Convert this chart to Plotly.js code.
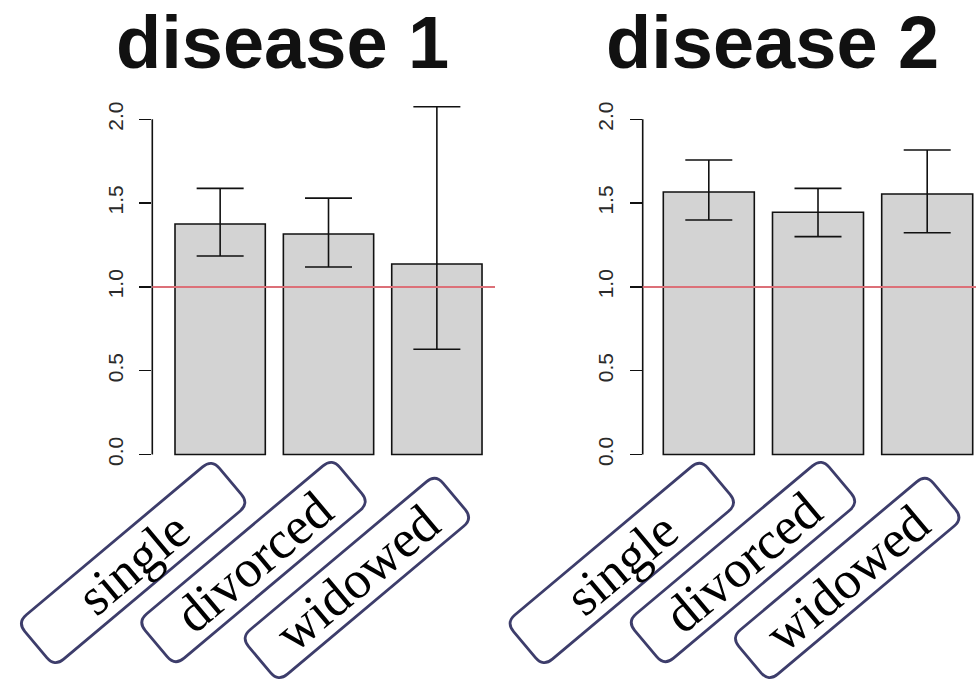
<!DOCTYPE html>
<html><head><meta charset="utf-8">
<script src="https://cdn.plot.ly/plotly-3.0.1.min.js"></script>
<style>html,body{margin:0;padding:0;background:#fff}#chart{width:976px;height:681px}</style>
</head><body><div id="chart"></div>
<script>
// ---- data ----
const categories = ['single', 'divorced', 'widowed'];
const panelTitles = ['disease 1', 'disease 2'];
const disease1Value = [1.375, 1.316, 1.137];
const disease1Lower = [1.184, 1.119, 0.628];
const disease1Upper = [1.588, 1.530, 2.075];
const disease2Value = [1.566, 1.445, 1.554];
const disease2Lower = [1.399, 1.300, 1.323];
const disease2Upper = [1.757, 1.588, 1.817];
const yTickVals = [0, 0.5, 1, 1.5, 2];
const yTickText = ['0.0', '0.5', '1.0', '1.5', '2.0'];
const referenceLine = 1;

// ---- layout constants (pixels) ----
const W = 976, H = 681;
const px2x = p => p / W, py2y = p => 1 - p / H;
const barPos = categories.map((c, i) => 0.7 + 1.2 * i);
const yRange = [-0.08, 2.08];
const yDomainPx = [467.9, 105.9];
const labelDx = [-87, -75, -80];
const labelY = [563, 562, 578];
const boxHalfLen = 127, boxHalfWid = 29, boxRad = 12, boxAngle = 40;
const titleDx = 129.7, titleTop = 0;

const panels = [
  {xa: 'x', ya: 'y', dom: [152.3, 495], range: [-0.0514, 3.7437],
   vals: disease1Value, lo: disease1Lower, hi: disease1Upper},
  {xa: 'x2', ya: 'y2', dom: [642.7, 976], range: [-0.0264, 3.6363],
   vals: disease2Value, lo: disease2Lower, hi: disease2Upper}
];

const traces = [], shapes = [], annotations = [];
const layout = {
  width: W, height: H, autosize: false,
  margin: {l: 0, r: 0, t: 0, b: 0},
  paper_bgcolor: '#fff', plot_bgcolor: 'rgba(0,0,0,0)',
  showlegend: false, bargap: 0
};

function roundedBoxPath(cx, cy) {
  const th = boxAngle * Math.PI / 180;
  const ux = Math.cos(th), uy = -Math.sin(th);
  const vx = Math.sin(th), vy = Math.cos(th);
  const P = (a, b) => {
    const X = cx + a * ux + b * vx, Y = cy + a * uy + b * vy;
    return px2x(X).toFixed(5) + ',' + py2y(Y).toFixed(5);
  };
  const a = boxHalfLen, b = boxHalfWid, r = boxRad;
  return 'M' + P(-a + r, -b) + ' L' + P(a - r, -b) + ' Q' + P(a, -b) + ' ' + P(a, -b + r) +
    ' L' + P(a, b - r) + ' Q' + P(a, b) + ' ' + P(a - r, b) +
    ' L' + P(-a + r, b) + ' Q' + P(-a, b) + ' ' + P(-a, b - r) +
    ' L' + P(-a, -b + r) + ' Q' + P(-a, -b) + ' ' + P(-a + r, -b) + ' Z';
}

panels.forEach((p, k) => {
  const sfx = k === 0 ? '' : '2';
  traces.push({
    type: 'bar', x: barPos, y: p.vals, width: 1,
    xaxis: p.xa, yaxis: p.ya,
    marker: {color: '#d3d3d3', line: {color: '#111', width: 1.6}},
    error_y: {
      type: 'data', symmetric: false,
      array: p.hi.map((h, i) => h - p.vals[i]),
      arrayminus: p.lo.map((l, i) => p.vals[i] - l),
      color: '#111', thickness: 1.6, width: 23.5
    },
    hoverinfo: 'skip'
  });
  layout['xaxis' + sfx] = {
    domain: [px2x(p.dom[0]), px2x(p.dom[1])], range: p.range,
    anchor: p.ya, showgrid: false, zeroline: false, showline: false,
    showticklabels: false, ticks: '', fixedrange: true
  };
  layout['yaxis' + sfx] = {
    domain: [py2y(yDomainPx[0]), py2y(yDomainPx[1])], range: yRange,
    anchor: p.xa, showgrid: false, zeroline: false, showline: false,
    tickvals: yTickVals, ticktext: yTickText, ticks: 'outside',
    ticklen: 12, tickwidth: 1.5, tickcolor: '#111', tickangle: -90,
    ticklabelstandoff: 8,
    tickfont: {family: 'Liberation Sans, Arial, sans-serif', size: 21, color: '#2a2a2a'},
    fixedrange: true
  };
  shapes.push({type: 'line', xref: 'paper', yref: p.ya,
    x0: px2x(p.dom[0]), x1: px2x(p.dom[0]), y0: yTickVals[0], y1: yTickVals[yTickVals.length - 1],
    line: {color: '#111', width: 1.6}, layer: 'above'});
  shapes.push({type: 'line', xref: p.xa + ' domain', yref: p.ya,
    x0: 0, x1: 1, y0: referenceLine, y1: referenceLine,
    line: {color: '#dc7078', width: 2}, layer: 'above'});
  annotations.push({text: panelTitles[k], xref: 'paper', yref: 'paper',
    x: px2x(p.dom[0] + titleDx), y: py2y(titleTop), xanchor: 'center', yanchor: 'top',
    showarrow: false, borderpad: 0,
    font: {family: 'Liberation Sans, Arial, sans-serif', size: 74, color: '#111', weight: 'bold'}});
  const scale = (p.dom[1] - p.dom[0]) / (p.range[1] - p.range[0]);
  categories.forEach((c, i) => {
    const cx = p.dom[0] + (barPos[i] - p.range[0]) * scale + labelDx[i];
    const cy = labelY[i];
    shapes.push({type: 'path', xref: 'paper', yref: 'paper', path: roundedBoxPath(cx, cy),
      line: {color: '#3d3d6b', width: 2.8}, fillcolor: 'rgba(255,255,255,0)', layer: 'above'});
    annotations.push({text: c, xref: 'paper', yref: 'paper', x: px2x(cx), y: py2y(cy),
      xanchor: 'center', yanchor: 'middle', textangle: -boxAngle, showarrow: false,
      font: {family: 'Liberation Serif, Times New Roman, serif', size: 53, color: '#000'}});
  });
});

layout.shapes = shapes;
layout.annotations = annotations;
Plotly.newPlot('chart', traces, layout, {displayModeBar: false, staticPlot: true});
</script>
</body></html>
